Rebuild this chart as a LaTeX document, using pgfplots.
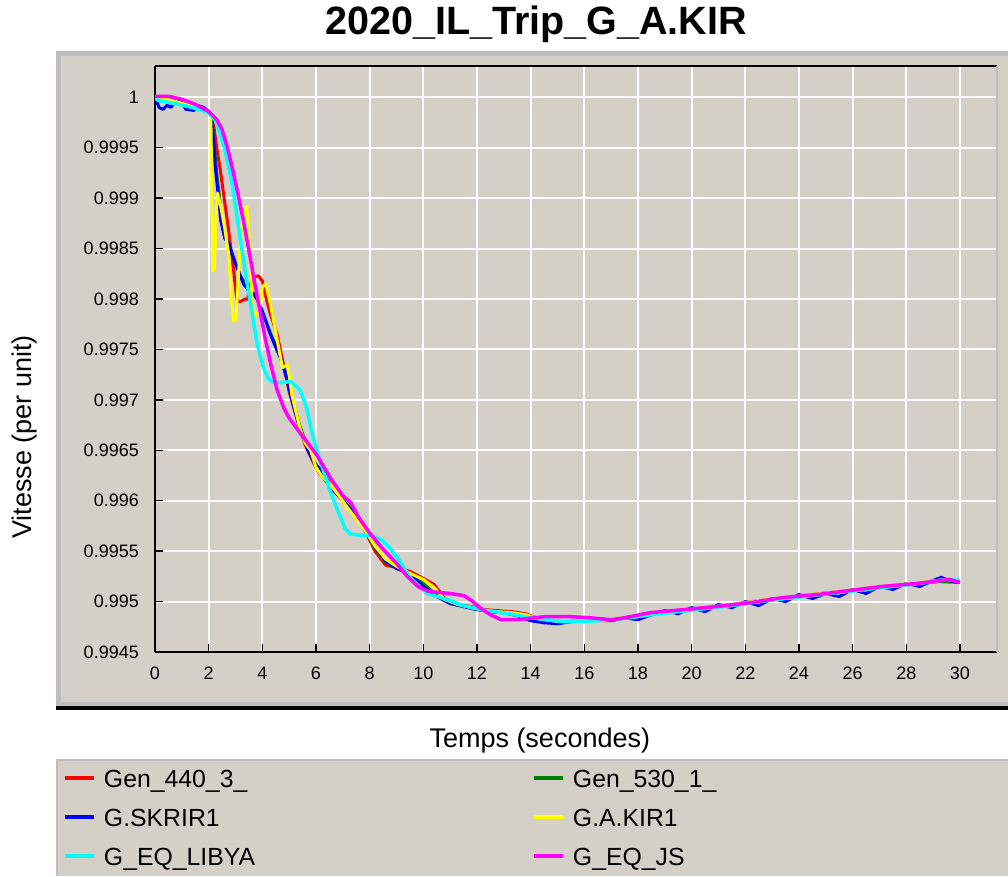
\documentclass[border=0pt]{standalone}
\usepackage{fontspec}
\setmainfont{Liberation Sans}
\usepackage{pgfplots}
\pgfplotsset{compat=1.18}
\definecolor{panel}{HTML}{D4D0C8}
\definecolor{bord}{HTML}{BEBEBE}
\definecolor{cred}{HTML}{FF0000}
\definecolor{cgreen}{HTML}{008000}
\definecolor{cblue}{HTML}{0000FF}
\definecolor{cyellow}{HTML}{FFFF00}
\definecolor{ccyan}{HTML}{00FFFF}
\definecolor{cmag}{HTML}{FF00FF}
\begin{document}
\begin{tikzpicture}[x=1pt,y=1pt]
\useasboundingbox (0,0) rectangle (1008,-876);
\fill[white] (0,0) rectangle (1008,-876);
% main panel
\fill[bord] (56,-51) rectangle (1008,-706);
\fill[panel] (61,-56) rectangle (1008,-702);
\fill[black] (56,-706) rectangle (1008,-710);
% legend panel
\fill[bord] (56,-759) rectangle (1008,-876);
\fill[panel] (58,-761) rectangle (1008,-876);
\begin{axis}[
  name=ax,
  at={(155pt,-652pt)}, anchor=south west,
  scale only axis, width=842pt, height=586pt,
  xmin=0, xmax=31.38, ymin=0.9945, ymax=1.00031,
  axis x line*=bottom, axis y line*=left,
  axis line style={line width=2pt, -},
  xtick={0,2,...,30},
  ytick={0.9945,0.995,0.9955,0.996,0.9965,0.997,0.9975,0.998,0.9985,0.999,0.9995,1},
  yticklabels={0.9945,0.995,0.9955,0.996,0.9965,0.997,0.9975,0.998,0.9985,0.999,0.9995,1},
  /pgf/number format/assume math mode=true,
  tick align=inside, major tick length=8pt,
  tick style={black, line width=1.5pt},
  grid=major, major grid style={white, line width=2pt},
  tick label style={font=\fontsize{18}{20}\selectfont, inner sep=0pt},
  yticklabel style={anchor=east, xshift=-16pt},
  xticklabel style={anchor=north, yshift=-15pt},
  title={\textbf{2020\_IL\_Trip\_G\_A.KIR}},
  title style={font=\fontsize{39.5}{42}\selectfont, at={(axis description cs:0.4525,1.0427)}, anchor=base, inner sep=0pt},
  xlabel={Temps (secondes)},
  xlabel style={font=\fontsize{27}{30}\selectfont, at={(axis description cs:0.457,-0.1621)}, anchor=base, inner sep=0pt},
  ylabel={Vitesse (per unit)},
  ylabel style={font=\fontsize{27}{30}\selectfont, at={(axis description cs:-0.1544,0.3669)}, anchor=center, rotate=0, inner sep=0pt},
  legend columns=2,
  legend style={at={(axis description cs:-0.1093,-0.1843)}, anchor=north west,
    draw=none, fill=none, inner sep=0pt, outer sep=0pt,
    column sep=8pt, row sep=0pt,
    font=\fontsize{24.8}{26}\selectfont,
    nodes={inner sep=0pt, anchor=base west, text height=27pt, text depth=12pt}},
  legend image code/.code={\path[draw=none, fill=none] (0pt,-12pt) rectangle (29pt,27pt); \draw[#1, line width=4pt, line cap=butt] (0pt,8.7pt) -- (29pt,8.7pt);},
  every axis plot/.append style={line width=3pt, line join=round},
]
\addplot[cred] coordinates {(0,1.00000) (0.3,0.99999) (0.6,0.99998) (1.0,0.99994) (1.5,0.99990) (2.0,0.99985) (2.1,0.99981) (2.2,0.99970) (2.3,0.99950) (2.45,0.99925) (2.55,0.99905) (2.7,0.99877) (2.9,0.99835) (3.05,0.99800) (3.15,0.99797) (3.35,0.99800) (3.45,0.99800) (3.55,0.99815) (3.7,0.99822) (3.85,0.99823) (4.0,0.99818) (4.15,0.99800) (4.3,0.99785) (4.55,0.99765) (4.75,0.99740) (5.0,0.99708) (5.3,0.99680) (5.6,0.99655) (5.9,0.99638) (6.1,0.99628) (6.3,0.99622) (6.6,0.99612) (7.0,0.99600) (7.4,0.99590) (7.8,0.99572) (8.2,0.99550) (8.6,0.99536) (9.0,0.99534) (9.5,0.99530) (10.0,0.99523) (10.4,0.99517) (10.8,0.99503) (11.3,0.99497) (11.8,0.99495) (12.3,0.99492) (12.8,0.99491) (13.3,0.99490) (13.8,0.99488) (14.3,0.99483) (14.8,0.99481) (15.3,0.99480) (15.8,0.99481) (16.3,0.99482) (16.8,0.99481) (17.3,0.99483) (17.8,0.99484) (18.5,0.99488) (19.5,0.99491) (20.5,0.99494) (21.5,0.99497) (22.5,0.99501) (23.5,0.99504) (24.5,0.99507) (25.5,0.99510) (26.5,0.99513) (27.5,0.99516) (28.5,0.99518) (29.5,0.99521) (30,0.99519)};
\addlegendentry{\makebox[420pt][l]{Gen\_440\_3\_}}
\addplot[cgreen] coordinates {(0,1.0) (0.5,0.99998) (1.0,0.99994) (1.5,0.99990) (2.0,0.99986) (2.1,0.99982) (2.2,0.99955) (2.3,0.99925) (2.45,0.99890) (2.6,0.99865) (2.8,0.99850) (3.0,0.99835) (3.2,0.99822) (3.5,0.99810) (3.8,0.99800) (4.0,0.99788) (4.3,0.99766) (4.6,0.99748) (4.85,0.99728) (5.1,0.99702) (5.4,0.99674) (5.7,0.99652) (6.0,0.99636) (6.3,0.99626) (6.6,0.99613) (7.0,0.99601) (7.4,0.99589) (7.8,0.99572) (8.2,0.99553) (8.6,0.99539) (9.0,0.99533) (9.5,0.99528) (10.0,0.99518) (10.5,0.99506) (11.0,0.99499) (11.5,0.99496) (12.0,0.99493) (12.5,0.99490) (13.0,0.99489) (13.5,0.99487) (14.0,0.99482) (15.0,0.99480) (16.0,0.99481) (17.0,0.99482) (18.0,0.99485) (19.0,0.99489) (20.0,0.99492) (21.0,0.99495) (22.0,0.99498) (23.0,0.99502) (24.0,0.99505) (25.0,0.99508) (26.0,0.99511) (27.0,0.99514) (28.0,0.99517) (29.0,0.99520) (30.0,0.99519)};
\addlegendentry{\makebox[420pt][l]{Gen\_530\_1\_}}
\addplot[cblue] coordinates {(0,1.0) (0.15,0.99990) (0.3,0.99988) (0.45,0.99992) (0.6,0.99990) (0.75,0.99997) (1.0,0.99995) (1.15,0.99988) (1.45,0.99987) (1.6,0.99992) (1.8,0.99990) (2.0,0.99986) (2.1,0.99982) (2.18,0.99960) (2.25,0.99930) (2.35,0.99905) (2.45,0.99878) (2.6,0.99860) (2.75,0.99855) (2.9,0.99843) (3.1,0.99828) (3.3,0.99815) (3.5,0.99808) (3.7,0.99805) (3.9,0.99795) (4.1,0.99780) (4.3,0.99765) (4.5,0.99752) (4.7,0.99740) (4.9,0.99722) (5.1,0.99700) (5.4,0.99672) (5.7,0.99650) (5.95,0.99637) (6.2,0.99630) (6.5,0.99614) (6.8,0.99606) (7.1,0.99597) (7.4,0.99588) (7.8,0.99573) (8.2,0.99555) (8.6,0.99540) (9.0,0.99533) (9.5,0.99527) (10.0,0.99515) (10.5,0.99505) (11.0,0.99498) (11.5,0.99495) (12.0,0.99492) (12.5,0.99490) (13.0,0.99489) (13.5,0.99486) (14.0,0.99481) (14.5,0.99479) (15.0,0.99478) (15.5,0.99480) (16.0,0.99481) (16.5,0.99483) (17.0,0.99481) (17.5,0.99484) (18.0,0.99482) (18.5,0.99487) (19.0,0.99491) (19.5,0.99488) (20.0,0.99494) (20.5,0.99490) (21.0,0.99497) (21.5,0.99494) (22.0,0.99500) (22.5,0.99496) (23.0,0.99503) (23.5,0.99500) (24.0,0.99507) (24.5,0.99503) (25.0,0.99508) (25.5,0.99505) (26.0,0.99512) (26.5,0.99508) (27.0,0.99515) (27.5,0.99512) (28.0,0.99518) (28.5,0.99515) (29.0,0.99521) (29.3,0.99524) (29.7,0.99520) (30.0,0.99519)};
\addlegendentry{\makebox[420pt][l]{G.SKRIR1}}
\addplot[cyellow] coordinates {(0,0.99999) (0.5,0.99998) (1.0,0.99994) (1.5,0.99990) (2.0,0.99986) (2.08,0.99984) (2.12,0.99900) (2.16,0.99828) (2.22,0.99830) (2.27,0.99880) (2.33,0.99905) (2.45,0.99892) (2.6,0.99870) (2.75,0.99843) (2.85,0.99800) (2.93,0.99778) (3.02,0.99780) (3.1,0.99820) (3.2,0.99862) (3.3,0.99888) (3.42,0.99892) (3.52,0.99855) (3.62,0.99795) (3.75,0.99783) (3.9,0.99790) (4.0,0.99812) (4.12,0.99815) (4.3,0.99795) (4.55,0.99760) (4.75,0.99732) (4.95,0.99735) (5.1,0.99705) (5.4,0.99672) (5.6,0.99657) (5.8,0.99650) (6.0,0.99633) (6.2,0.99625) (6.5,0.99617) (6.8,0.99607) (7.15,0.99594) (7.5,0.99582) (7.8,0.99572) (8.2,0.99555) (8.6,0.99542) (9.0,0.99535) (9.5,0.99528) (10.0,0.99522) (10.4,0.99514) (10.8,0.99502) (11.3,0.99497) (11.8,0.99494) (12.3,0.99491) (12.8,0.99490) (13.3,0.99489) (13.8,0.99487) (14.3,0.99483) (14.8,0.99481) (15.3,0.99480) (15.8,0.99481) (16.5,0.99482) (17.0,0.99483) (17.5,0.99484) (18.0,0.99485) (18.5,0.99488) (19.5,0.99491) (20.5,0.99494) (21.5,0.99497) (22.5,0.99501) (23.5,0.99504) (24.5,0.99507) (25.5,0.99510) (26.5,0.99513) (27.5,0.99516) (28.5,0.99519) (29.5,0.99522) (30,0.99520)};
\addlegendentry{\makebox[420pt][l]{G.A.KIR1}}
\addplot[ccyan, line width=3.5pt] coordinates {(0,1.00000) (0.11,0.99997) (0.5,0.99995) (1.04,0.99992) (1.5,0.99989) (1.98,0.99985) (2.24,0.99978) (2.45,0.99962) (2.61,0.99948) (2.87,0.99915) (3.06,0.99881) (3.24,0.99849) (3.43,0.99816) (3.62,0.99786) (3.80,0.99756) (4.03,0.99733) (4.2,0.99722) (4.36,0.99718) (4.66,0.99717) (5.03,0.99718) (5.2,0.99715) (5.4,0.99710) (5.55,0.99700) (5.67,0.99690) (5.89,0.99663) (6.15,0.99640) (6.52,0.99610) (6.90,0.99584) (7.1,0.99572) (7.27,0.99567) (7.6,0.99566) (8.01,0.99566) (8.3,0.99563) (8.50,0.99560) (8.75,0.99553) (9.02,0.99544) (9.50,0.99524) (10.14,0.99508) (10.88,0.99502) (11.48,0.99496) (12.37,0.99491) (13.2,0.99488) (13.98,0.99484) (14.6,0.99482) (15.21,0.99480) (16.47,0.99481) (17.70,0.99484) (18.5,0.99487) (19.5,0.99490) (20.5,0.99493) (21.5,0.99496) (22.5,0.99500) (23.5,0.99503) (24.5,0.99506) (25.5,0.99509) (26.5,0.99512) (27.5,0.99515) (28.5,0.99518) (29.5,0.99522) (30,0.99521)};
\addlegendentry{\makebox[420pt][l]{G\_EQ\_LIBYA}}
\addplot[cmag, line width=3.5pt] coordinates {(0,1.00001) (0.5,1.00001) (1.0,0.99998) (1.5,0.99993) (2.0,0.99986) (2.3,0.99978) (2.5,0.99968) (2.7,0.99950) (2.9,0.99928) (3.1,0.99903) (3.3,0.99877) (3.5,0.99848) (3.7,0.99818) (3.9,0.99790) (4.1,0.99762) (4.3,0.99737) (4.55,0.99710) (4.8,0.99692) (5.0,0.99682) (5.3,0.99671) (5.7,0.99657) (6.04,0.99645) (6.3,0.99633) (6.6,0.99620) (7.0,0.99605) (7.3,0.99598) (7.6,0.99583) (8.0,0.99568) (8.5,0.99552) (9.0,0.99538) (9.4,0.99525) (9.8,0.99515) (10.2,0.99510) (10.6,0.99509) (11.0,0.99508) (11.5,0.99506) (11.8,0.99501) (12.1,0.99494) (12.5,0.99487) (12.9,0.99482) (13.5,0.99482) (14.5,0.99485) (15.5,0.99485) (16.2,0.99484) (17.0,0.99482) (17.5,0.99484) (18.45,0.99489) (19.7,0.99492) (20.9,0.99495) (22.2,0.99499) (23.4,0.99504) (24.7,0.99507) (25.9,0.99511) (27.1,0.99515) (28.4,0.99518) (29.6,0.99522) (30,0.99519)};
\addlegendentry{\makebox[420pt][l]{G\_EQ\_JS}}
\end{axis}
\draw[black, line width=1.5pt] (ax.north west) -- (ax.north east);
\draw[bord, line width=1.5pt] (ax.north east) -- (ax.south east);
\end{tikzpicture}
\end{document}
